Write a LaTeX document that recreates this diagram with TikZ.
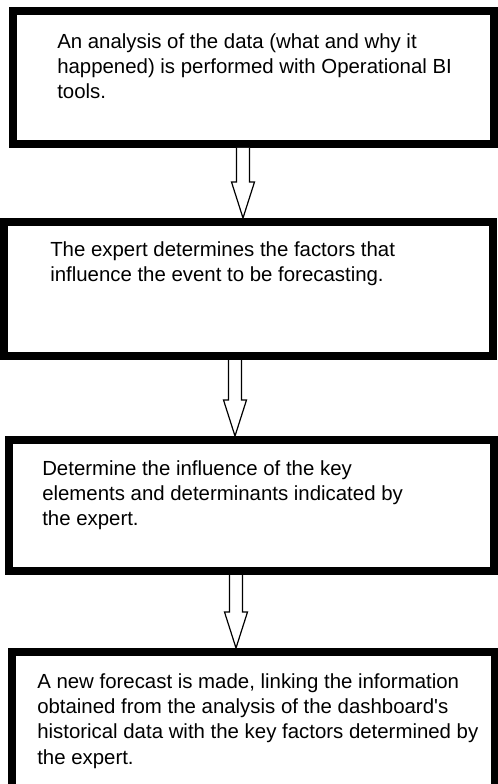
\documentclass[tikz,border=0pt]{standalone}
\usepackage{fontspec}
\setmainfont{Liberation Sans}
\usetikzlibrary{calc}

\tikzset{
	box/.style={draw, rectangle, line width=6pt, fill=white},
	txt/.style={anchor=north west, align=left, inner sep=0pt, font=\fontsize{15.3pt}{19.1pt}\selectfont},
	hollow/.style={draw, line width=0.9pt, fill=white}
}

\begin{document}
\begin{tikzpicture}[x=0.75pt, y=-0.75pt]
		\useasboundingbox (0,0) rectangle (498,784);
		
		\node[box, minimum width=360.75pt, minimum height=99.75pt] (b1) at (253.5,77.5) {};
		\node[box, minimum width=367.1pt, minimum height=100.5pt] (b2) at (248.25,289) {};
		\node[box, minimum width=363.75pt, minimum height=98.25pt] (b3) at (251.5,505.5) {};
		\node[box, minimum width=362.25pt, minimum height=118.5pt] (b4) at (253.5,731) {};
		
		\node[txt] (t1) at (57,33) {An analysis of the data (what and why it\\happened) is performed with Operational BI\\tools.};
		\node[txt] (t2) at (50,241) {The expert determines the factors that\\influence the event to be forecasting.};
		\node[txt] (t3) at (42,460) {Determine the influence of the key\\elements and determinants indicated by\\the expert.};
		\node[txt] (t4) at (37,673) {A new forecast is made, linking the information\\obtained from the analysis of the dashboard\textquotesingle s\\historical data with the key factors determined by\\the expert.};
		
		\foreach \x/\a/\b in {243/b1/b2, 235/b2/b3, 236/b3/b4}
		{
		\coordinate (s) at (\x,0 |- \a.south);
		\coordinate (t) at (\x,0 |- \b.north);
		\draw[hollow] ($(s)+(-6.5,0)$) -- ($(t)+(-6.5,-36)$) -- ($(t)+(-11.5,-36)$) -- (t)
			-- ($(t)+(11.5,-36)$) -- ($(t)+(6.5,-36)$) -- ($(s)+(6.5,0)$);
		}
	\end{tikzpicture}
\end{document}
